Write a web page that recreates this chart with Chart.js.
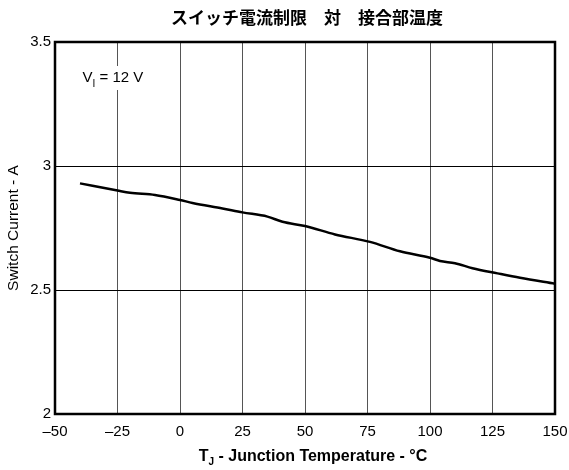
<!DOCTYPE html>
<html>
<head>
<meta charset="utf-8">
<script src="https://cdn.jsdelivr.net/npm/chart.js@4/dist/chart.umd.min.js"></script>
<style>
  html, body { margin: 0; padding: 0; background: #fff; }
  #wrap { width: 569px; height: 470px; }
</style>
</head>
<body>
<div id="wrap"><canvas id="mycanvas" width="569" height="470"></canvas></div>
<script>
// junction temperature (°C) and switch current (A)
var temps = [-40, -25, -20, -10, 0, 5, 17, 25, 35, 41, 50, 62, 76, 88, 100, 104, 110, 117, 127, 136, 150];
var current = [2.93, 2.901, 2.892, 2.883, 2.863, 2.851, 2.829, 2.813, 2.796, 2.775, 2.758, 2.724, 2.694, 2.656, 2.630, 2.617, 2.608, 2.588, 2.567, 2.549, 2.525];

var xTicks = [-50, -25, 0, 25, 50, 75, 100, 125, 150];
var yTicks = [2, 2.5, 3, 3.5];

var titleText = 'スイッチ電流制限　対　接合部温度';
var yTitle = 'Switch Current - A';

var points = [];
for (var i in temps) {
	points.push({x: temps[i], y: current[i]});
}

var font = '"Liberation Sans", Arial, sans-serif';

// title, x axis title with subscript, V_I note, frame
var extras = {
	id: 'extras',
	afterDatasetsDraw: function(chart) {
		var ctx = chart.ctx;
		var xs = chart.scales.x;

		// V_I = 12 V note on a white box
		var nx = xs.getPixelForValue(-39);
		var ny = 82;
		ctx.save();
		ctx.fillStyle = '#fff';
		ctx.fillRect(nx - 3, ny - 16, 72, 24);
		ctx.fillStyle = '#000';
		ctx.textBaseline = 'alphabetic';
		ctx.textAlign = 'left';
		ctx.font = '15px ' + font;
		ctx.fillText('V', nx, ny);
		var w = ctx.measureText('V').width;
		ctx.font = '10px ' + font;
		ctx.fillText('I', nx + w, ny + 5);
		var w2 = ctx.measureText('I').width;
		ctx.font = '15px ' + font;
		ctx.fillText(' = 12 V', nx + w + w2, ny);
		ctx.restore();
	},
	afterDraw: function(chart) {
		var ctx = chart.ctx;
		var a = chart.chartArea;
		ctx.save();

		// frame
		ctx.strokeStyle = '#000';
		ctx.lineWidth = 2.5;
		ctx.strokeRect(a.left, a.top, a.right - a.left, a.bottom - a.top);

		// title
		ctx.fillStyle = '#000';
		ctx.textAlign = 'center';
		ctx.textBaseline = 'middle';
		ctx.font = 'bold 17px "Noto Sans CJK JP", sans-serif';
		ctx.fillText(titleText, (a.left + a.right) / 2 + 2, 18);

		// x axis title: T_J - Junction Temperature - °C
		var rest = ' - Junction Temperature - °C';
		ctx.font = 'bold 16px ' + font;
		var wT = ctx.measureText('T').width;
		var wR = ctx.measureText(rest).width;
		ctx.font = 'bold 10px ' + font;
		var wJ = ctx.measureText('J').width;
		var total = wT + wJ + wR;
		var x0 = (a.left + a.right) / 2 + 8 - total / 2;
		var y0 = 461;
		ctx.textAlign = 'left';
		ctx.textBaseline = 'alphabetic';
		ctx.font = 'bold 16px ' + font;
		ctx.fillText('T', x0, y0);
		ctx.font = 'bold 10px ' + font;
		ctx.fillText('J', x0 + wT, y0 + 4);
		ctx.font = 'bold 16px ' + font;
		ctx.fillText(rest, x0 + wT + wJ, y0);

		ctx.restore();
	}
};

var ctx = document.getElementById('mycanvas');

var lineGraph = new Chart(ctx, {
	type: 'line',
	data: {
		datasets: [{
			data: points,
			borderColor: '#000',
			borderWidth: 2.5,
			pointRadius: 0,
			fill: false,
			tension: 0.3,
			cubicInterpolationMode: 'monotone'
		}]
	},
	options: {
		responsive: false,
		animation: false,
		layout: {padding: {top: 42, right: 0, left: 0, bottom: 0}},
		plugins: {
			legend: {display: false},
			tooltip: {enabled: false},
			title: {display: false}
		},
		scales: {
			x: {
				type: 'linear',
				min: -50,
				max: 150,
				afterBuildTicks: function(s) { s.ticks = xTicks.map(function(v) { return {value: v}; }); },
				afterFit: function(s) { s.height = 56; s.paddingRight = 14; s.paddingLeft = 0; },
				grid: {color: '#555', lineWidth: 1, drawTicks: false},
				border: {display: false},
				ticks: {
					color: '#000',
					font: {family: font, size: 15},
					padding: 9,
					maxRotation: 0,
					callback: function(v) { return String(v).replace('-', '\u2013'); }
				}
			},
			y: {
				type: 'linear',
				min: 2,
				max: 3.5,
				afterBuildTicks: function(s) { s.ticks = yTicks.map(function(v) { return {value: v}; }); },
				afterFit: function(s) { s.width = 55; },
				grid: {color: '#000', lineWidth: 1, drawTicks: false},
				border: {display: false},
				title: {
					display: true,
					text: yTitle,
					color: '#000',
					font: {family: font, size: 15.5},
					padding: {top: 4, bottom: 0}
				},
				ticks: {
					color: '#000',
					font: {family: font, size: 15},
					padding: 4,
					callback: function(v) { return String(v); }
				}
			}
		}
	},
	plugins: [extras]
});
</script>
</body>
</html>
